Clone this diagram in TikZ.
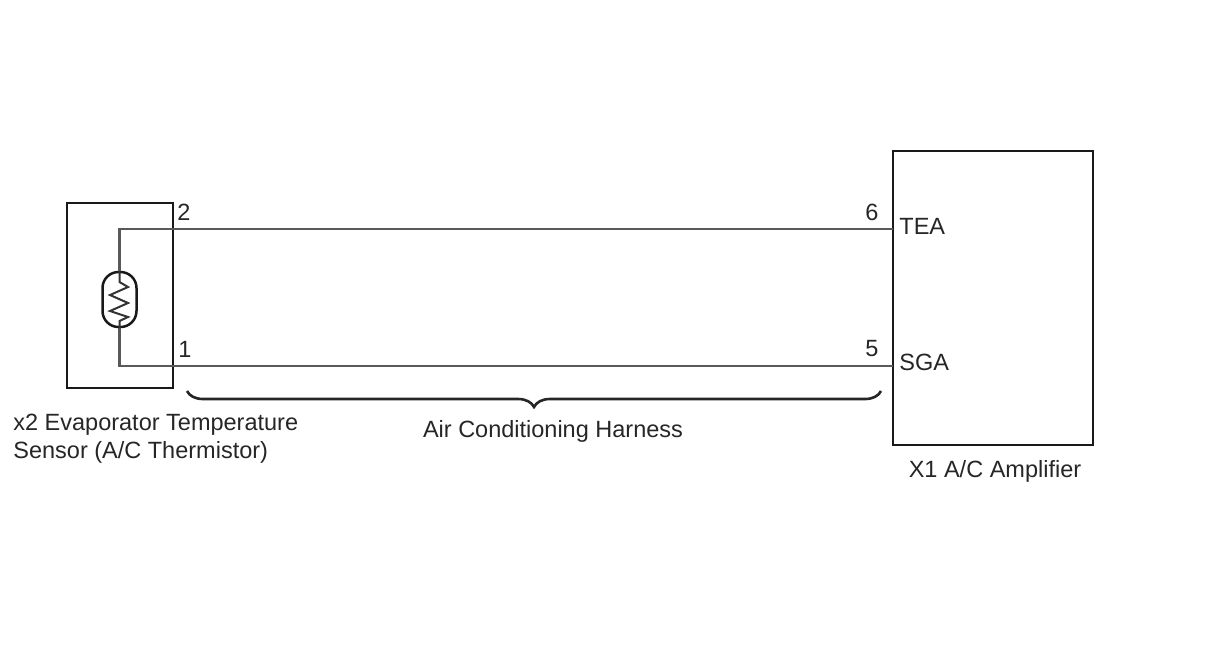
\documentclass[tikz,border=0pt]{standalone}
\usepackage{fontspec}
\setmainfont{Liberation Sans}
\usetikzlibrary{decorations.pathreplacing}
\tikzset{%
	unit/.style={
		draw=black!90,
		line width=1.25pt,
		inner sep=0pt
	},
	wire/.style={
		draw=black!65,
		line width=1.2pt
	},
	label/.style={
		inner sep=0pt,
		text=black!85,
		font=\fontsize{11.75}{14}\selectfont
	},
}

\begin{document}
\begin{tikzpicture}[x=0.5pt,y=-0.5pt]
	\useasboundingbox (0,0) rectangle (1208,644);

	\node[unit,minimum width=53pt,minimum height=92.5pt](sensor) at (120,295.5){};
	\node[unit,minimum width=100pt,minimum height=147pt](amp) at (993,298){};
	\node[unit,rounded corners=8pt,minimum width=17pt,minimum height=27.5pt](therm) at (119.5,299.5){};

	% pins on the left edge of the amplifier
	\coordinate (tea) at (893,229);
	\coordinate (sga) at (893,366);
	\coordinate (bl) at (187,391);
	\coordinate (br) at (881,391);

	\draw[wire] (tea) -- (therm.north |- tea) -- (therm.north);
	\draw[wire] (sga) -- (therm.south |- sga) -- (therm.south);

	% resistor inside the thermistor
	\draw[line width=1pt,black!80] (therm.north) -- (119.5,282) -- (128,287) -- (110,295) -- (128,303) -- (110,311) -- (128,317) -- (119.5,321) -- (therm.south);

	\node[label](n2) at (184,212){2};
	\node[label](n1) at (185,349){1};
	\node[label](n6) at (872,212){6};
	\node[label](n5) at (872,349){5};
	\node[label,anchor=west](teal) at (899,226){TEA};
	\node[label,anchor=west](sgal) at (899,362){SGA};

	\draw[wire,black!85,line width=1.3pt,decorate,decoration={brace,mirror,amplitude=8pt}] (bl) -- (br);

	\node[label](harness) at (553,431){Air Conditioning Harness};
	\node[label,align=left,anchor=north west](name) at (13,414){x2 Evaporator Temperature\\Sensor (A/C Thermistor)};
	\node[label](ampname) at (995,471){X1 A/C Amplifier};
\end{tikzpicture}
\end{document}
